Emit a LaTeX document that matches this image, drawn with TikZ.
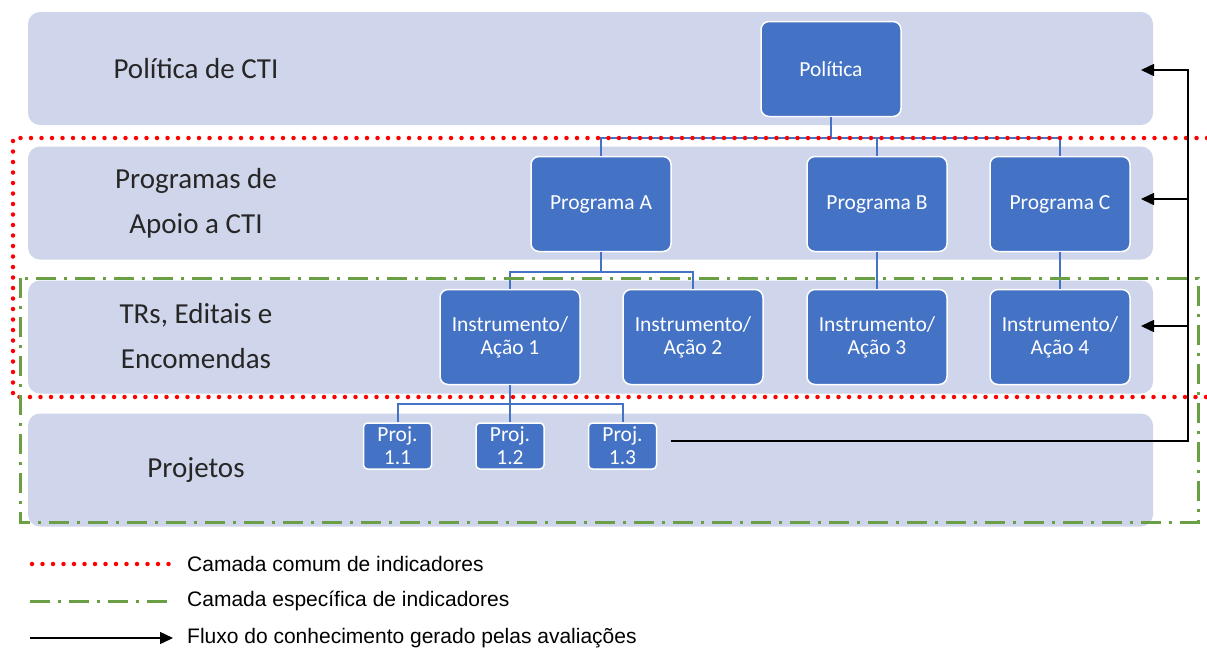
\documentclass[tikz,border=0pt]{standalone}
\usepackage{fontspec}
\setmainfont{Carlito}
\newfontfamily\legendfont{Liberation Sans}
\usetikzlibrary{positioning, arrows.meta}
\definecolor{bandfill}{HTML}{CFD5EA}
\definecolor{boxblue}{HTML}{4472C4}
\definecolor{layergreen}{HTML}{6A9F45}
\definecolor{labeltext}{HTML}{262626}

\begin{document}
\begin{tikzpicture}[x=1pt, y=-1pt, node distance=10pt,
		band/.style={fill=bandfill, rounded corners=12pt, minimum width=1125pt, minimum height=113pt, inner sep=0pt},
		layer/.style={text=labeltext, align=center, font=\fontsize{29}{45}\selectfont},
		unit/.style={draw=white, line width=1.5pt, fill=boxblue, rounded corners=8pt, text=white, align=center, minimum width=140pt, minimum height=95pt, inner sep=0pt, font=\fontsize{21.5}{23}\selectfont},
		proj/.style={unit, minimum width=68pt, minimum height=46pt, rounded corners=4pt},
		tree/.style={draw=boxblue, line width=2pt},
		feedback/.style={draw=black, line width=1.5pt, -{Triangle[length=13pt, width=12pt]}},
		common/.style={draw=red, line width=4.5pt, line cap=round, dash pattern=on 0pt off 10.5pt},
		specific/.style={draw=layergreen, line width=3pt, dash pattern=on 20pt off 8pt on 3pt off 8pt},
		legend/.style={anchor=west, inner sep=0pt, text=black, font=\legendfont\fontsize{21}{24}\selectfont}]
		\useasboundingbox (0,0) rectangle (1207,649);
		
		% faixas
		\node[band]                          (band1) at (590.5,68.5) {};
		\node[band]                          (band2) at (590.5,203)  {};
		\node[band]                          (band3) at (590.5,337)  {};
		\node[band]                          (band4) at (590.5,470)  {};
		
		\node[layer]                         (lpol)  at (196,69)  {Política de CTI};
		\node[layer]                         (lprog) at (196,203) {Programas de\\Apoio a CTI};
		\node[layer]                         (ltr)   at (196,336) {TRs, Editais e\\Encomendas};
		\node[layer]                         (lproj) at (196,470) {Projetos};
		
		% caixas
		\node[unit]                          (pol) at (831,69)   {Política};
		\node[unit]                          (pa)  at (601,204)  {Programa A};
		\node[unit]                          (pb)  at (877,204)  {Programa B};
		\node[unit]                          (pc)  at (1060,204) {Programa C};
		\node[unit]                          (a1)  at (510,337)  {Instrumento/\\Ação 1};
		\node[unit]                          (a2)  at (693,337)  {Instrumento/\\Ação 2};
		\node[unit, below=36.5pt of pb]      (a3)  {Instrumento/\\Ação 3};
		\node[unit, below=36.5pt of pc]      (a4)  {Instrumento/\\Ação 4};
		\node[proj, below=37pt of a1]        (p12) {Proj.\\1.2};
		\node[proj, left=43pt of p12]        (p11) {Proj.\\1.1};
		\node[proj, right=43pt of p12]       (p13) {Proj.\\1.3};
		
		\draw[tree] (pol.south) -- ++(0,21) -| (pa.north);
		\draw[tree] (pol.south) -- ++(0,21) -| (pb.north);
		\draw[tree] (pol.south) -- ++(0,21) -| (pc.north);
		\draw[tree] (pa.south) -- ++(0,20) -| (a1.north);
		\draw[tree] (pa.south) -- ++(0,20) -| (a2.north);
		\draw[tree] (pb.south) -- (a3.north);
		\draw[tree] (pc.south) -- (a4.north);
		\draw[tree] (a1.south) -- ++(0,19) -| (p11.north);
		\draw[tree] (a1.south) -- ++(0,19) -| (p12.north);
		\draw[tree] (a1.south) -- ++(0,19) -| (p13.north);
		
		% camadas
		\draw[common] (1207,138) -- (13,138) -- (13,397) -- (1207,397);
		\draw[specific] (20,278) rectangle (1198,522);
		
		% fluxo
		\coordinate (trunk) at (1188,441);
		\coordinate (tip1)  at (1141,70);
		\coordinate (tip2)  at (1141,199);
		\coordinate (tip3)  at (1141,326);
		\draw[feedback] ([xshift=14pt, yshift=5pt]p13.east) -- (trunk) |- (tip1);
		\draw[feedback] (trunk |- tip2) -- (tip2);
		\draw[feedback] (trunk |- tip3) -- (tip3);
		
		% legenda
		\node[legend]                        (lg1) at (187,564) {Camada comum de indicadores};
		\node[legend]                        (lg2) at (187,601) {Camada específica de indicadores};
		\node[legend]                        (lg3) at (187,638) {Fluxo do conhecimento gerado pelas avaliações};
		\coordinate (k1) at (32,564);
		\coordinate (k2) at (30,601);
		\coordinate (k3) at (30,638);
		\draw[common] (k1) -- ([xshift=-17pt]lg1.west);
		\draw[specific] (k2) -- ([xshift=-15pt]lg2.west);
		\draw[feedback] (k3) -- ([xshift=-14pt]lg3.west);
	\end{tikzpicture}
\end{document}
